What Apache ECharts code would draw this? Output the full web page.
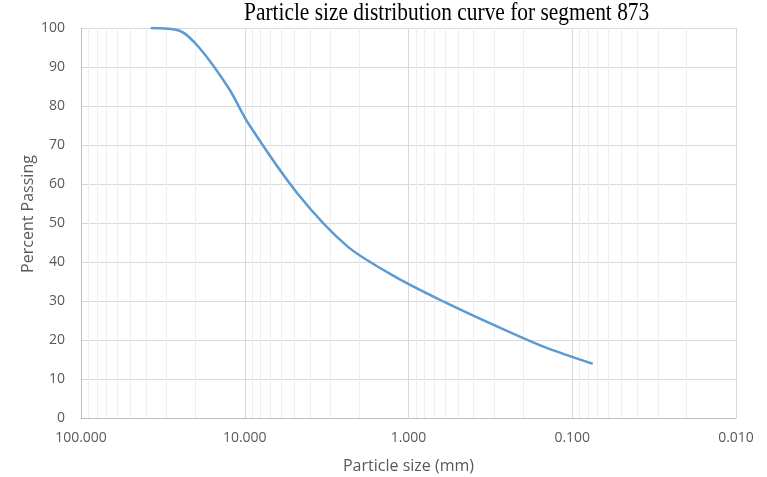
<!DOCTYPE html>
<html>
<head>
<meta charset="utf-8">
<script src="https://cdn.jsdelivr.net/npm/echarts@6/dist/echarts.min.js"></script>
<style>
  html, body { margin: 0; padding: 0; background: #fff; }
  #main { width: 767px; height: 477px; }
</style>
</head>
<body>
<div id="main"></div>
<script>
// sieve sizes (mm) and percent passing
var sizes = [37.5, 25, 19, 12.5, 9.5, 4.75, 2.36, 1.18, 0.6, 0.3, 0.15, 0.075];
var passing = [100, 99.3, 95, 84.5, 75.5, 57.5, 44, 36, 29.7, 23.8, 18.3, 13.9];
// minor vertical gridlines inside each decade
var minorLines = [90, 80, 70, 60, 50, 40, 30, 20,
                  9, 8, 7, 6, 5, 4, 3, 2,
                  0.9, 0.8, 0.7, 0.6, 0.5, 0.4, 0.3, 0.2,
                  0.09, 0.08, 0.07, 0.06, 0.05, 0.04, 0.03, 0.02];
var titleText = 'Particle size distribution curve for segment 873';
var yName = 'Percent Passing';
var xName = 'Particle size (mm)';

var points = [];
for (var i = 0; i < sizes.length; i++) {
    points.push([sizes[i], passing[i]]);
}
var minorData = [];
for (var j = 0; j < minorLines.length; j++) {
    minorData.push({ xAxis: minorLines[j] });
}

var myChart = echarts.init(document.getElementById('main'));
var option = {
    animation: false,
    graphic: [{
        type: 'text',
        x: 244,
        y: 13,
        scaleX: 0.823,
        style: {
            text: titleText,
            x: 0,
            y: 0,
            fill: '#000',
            font: '26px "Liberation Serif"',
            align: 'left',
            verticalAlign: 'middle'
        }
    }, {
        type: 'text',
        x: 28,
        y: 214,
        rotation: Math.PI / 2,
        style: {
            text: yName,
            x: 0,
            y: 0,
            fill: '#595959',
            font: '16px "Open Sans"',
            align: 'center',
            verticalAlign: 'middle'
        }
    }],
    grid: { left: 81, right: 31, top: 28, bottom: 59, containLabel: false, outerBoundsMode: 'none' },
    xAxis: {
        type: 'log',
        logBase: 10,
        min: 0.01,
        max: 100,
        inverse: true,
        name: xName,
        nameLocation: 'middle',
        nameGap: 40,
        nameTextStyle: { color: '#595959', fontSize: 16, fontFamily: 'Open Sans' },
        axisLine: { show: true, lineStyle: { color: '#bfbfbf', width: 1 } },
        axisTick: { show: false },
        axisLabel: {
            margin: 13,
            color: '#595959', fontSize: 14, fontFamily: 'Open Sans',
            formatter: function (v) { return Number(v).toFixed(3); }
        },
        splitLine: { show: true, lineStyle: { color: '#d9d9d9', width: 1 } }
    },
    yAxis: {
        type: 'value',
        min: 0,
        max: 100,
        interval: 10,
        axisLine: { show: true, lineStyle: { color: '#bfbfbf', width: 1 } },
        axisTick: { show: false },
        axisLabel: { margin: 16, color: '#595959', fontSize: 14, fontFamily: 'Open Sans' },
        splitLine: { show: true, lineStyle: { color: '#d9d9d9', width: 1 } }
    },
    series: [
        {
            type: 'line',
            z: 1,
            data: [],
            silent: true,
            markLine: {
                z: 1,
                silent: true,
                symbol: 'none',
                label: { show: false },
                lineStyle: { color: '#eeeeee', width: 1, type: 'solid' },
                data: minorData
            }
        },
        {
            type: 'line',
            z: 3,
            data: points,
            smooth: 0.3,
            showSymbol: false,
            lineStyle: { color: '#5b9bd5', width: 2.5 },
            itemStyle: { color: '#5b9bd5' }
        }
    ]
};
myChart.setOption(option);
</script>
</body>
</html>
